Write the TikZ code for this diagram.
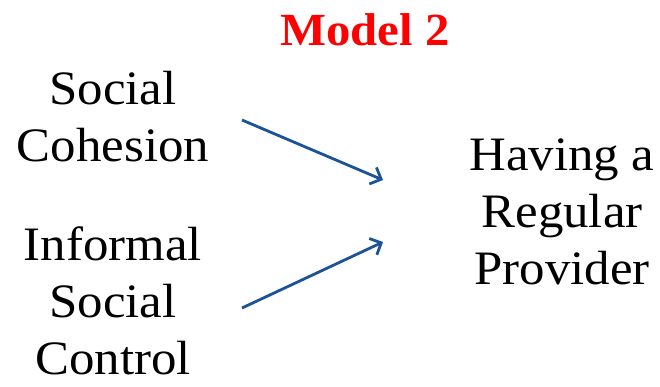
\documentclass[tikz,border=0pt]{standalone}
\usepackage{fontspec}
\setmainfont{Liberation Serif}[FakeStretch=1.06]
\usetikzlibrary{arrows.meta}
\definecolor{arrowblue}{RGB}{28,82,150}
\definecolor{titlered}{RGB}{255,0,0}
\tikzset{
  lbl/.style={align=center, inner sep=0pt, font=\fontsize{48}{57}\selectfont},
  ttl/.style={inner sep=0pt, text=titlered, font=\fontsize{46}{52}\selectfont\bfseries},
  link/.style={draw=arrowblue, line width=2.8pt, -{Straight Barb[length=9pt,width=18pt,line width=2.8pt]}}
}
\begin{document}
\begin{tikzpicture}[x=1pt,y=-1pt]
\useasboundingbox (0,0) rectangle (660,386);
\node[ttl] (title) at (365,30) {Model 2};
\node[lbl] (sc) at (113,117) {Social\\Cohesion};
\node[lbl] (isc) at (113,301) {Informal\\Social\\Control};
\node[lbl] (hrp) at (562,212) {Having a\\Regular\\Provider};
\coordinate (a1s) at (242,120);
\coordinate (a1e) at (383,180);
\coordinate (a2s) at (242,308);
\coordinate (a2e) at (383,242);
\draw[link] (a1s) -- (a1e);
\draw[link] (a2s) -- (a2e);
\end{tikzpicture}
\end{document}
